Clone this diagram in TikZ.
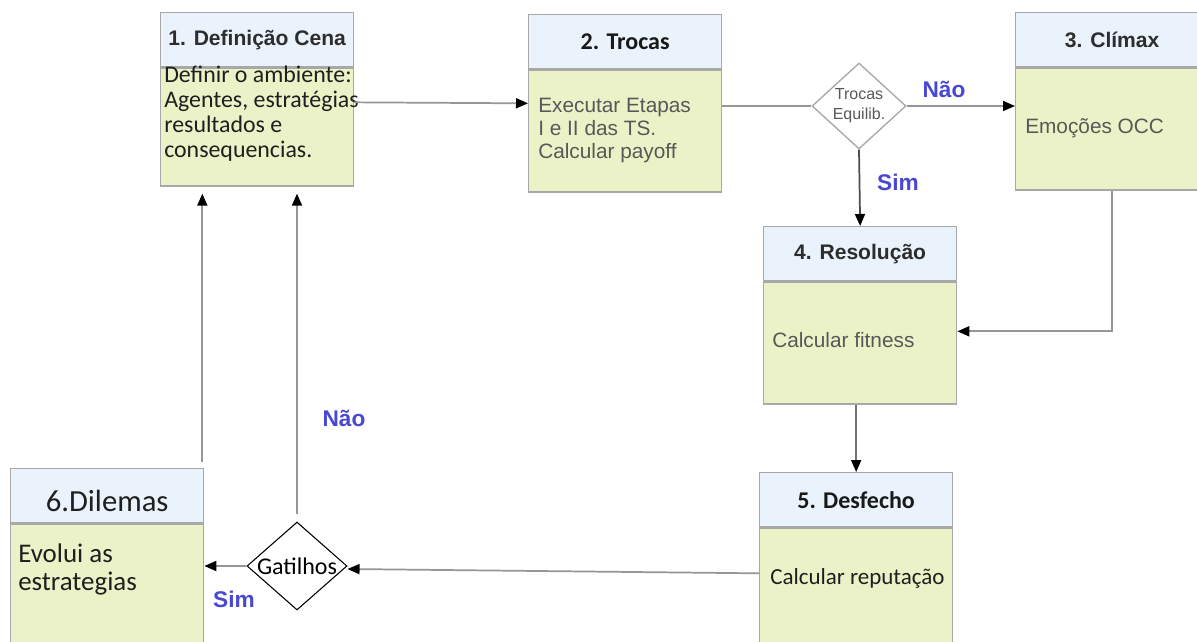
\documentclass[tikz,border=0pt]{standalone}
\usepackage{fontspec}
\setmainfont{Liberation Sans}
\newfontfamily\calibri{Carlito}
\usetikzlibrary{arrows.meta,shapes.geometric,calc}

\definecolor{headfill}{RGB}{234,242,251}
\definecolor{bodyfill}{RGB}{236,242,200}
\definecolor{frame}{RGB}{168,168,168}
\definecolor{wire}{RGB}{150,150,150}
\definecolor{labelblue}{RGB}{72,72,210}
\definecolor{txtgray}{RGB}{88,88,88}
\definecolor{txtdark}{RGB}{45,45,45}

\begin{document}
\begin{tikzpicture}[x=0.75pt,y=-0.75pt,
  headbox/.style={draw=frame, line width=1pt, fill=headfill, minimum width=144.75pt,
    minimum height=40.5pt, inner sep=0pt, anchor=north west},
  bodybox/.style={draw=frame, line width=1pt, fill=bodyfill, minimum width=144.75pt,
    inner sep=0pt, anchor=north west},
  arialhead/.style={font=\fontsize{15.8}{18}\selectfont\bfseries, text=txtdark},
  calhead/.style={font=\calibri\fontsize{18}{21}\selectfont\bfseries, text=black!90},
  arialtxt/.style={font=\fontsize{15.6}{17.25}\selectfont, text=txtgray, inner sep=0pt, align=left},
  caltxt/.style={font=\calibri\fontsize{17.9}{18.75}\selectfont, text=black!88, inner sep=0pt, align=left},
  decision/.style={diamond, draw, fill=white, inner sep=0pt},
  answer/.style={font=\fontsize{17}{20}\selectfont\bfseries, text=labelblue},
  wire/.style={draw=wire, line width=1.3pt, -{Triangle[length=9pt,width=7.5pt,color=black]}},
  plainwire/.style={draw=wire, line width=1.3pt}
]
\useasboundingbox (0,0) rectangle (1197,642);
\clip (0,0) rectangle (1197,642);
\fill[white] (0,0) rectangle (1197,642);

% Stage 1
\node[headbox, arialhead] (h1) at (160,12) {1. Definição Cena};
\node[bodybox, minimum height=88.5pt] (b1) at (h1.south west) {};
\node[caltxt, anchor=north west] (t1) at (164,66)
  {Definir o ambiente:\\Agentes, estratégias\\resultados e\\consequencias.};

% Stage 2
\node[headbox, calhead] (h2) at (528,14) {2. Trocas};
\node[bodybox, minimum height=91.5pt] (b2) at (h2.south west) {};
\node[arialtxt, anchor=north west] (t2) at (538,98)
  {Executar Etapas\\I e II das TS.\\Calcular payoff};

% Stage 3
\node[headbox, arialhead] (h3) at (1015,12) {3. Clímax};
\node[bodybox, minimum height=91.5pt] (b3) at (h3.south west) {};
\node[arialtxt, anchor=base west] (t3) at (1025,133) {Emoções OCC};

% Stage 4
\node[headbox, arialhead] (h4) at (763,226) {4. Resolução};
\node[bodybox, minimum height=91.5pt] (b4) at (h4.south west) {};
\node[arialtxt, anchor=base west] (t4) at (772,347) {Calcular fitness};

% Stage 5
\node[headbox, calhead] (h5) at (759,472) {5. Desfecho};
\node[bodybox, minimum height=100pt] (b5) at (h5.south west) {};
\node[caltxt, font=\calibri\fontsize{17.25}{18.75}\selectfont, anchor=base west] (t5) at (770,584) {Calcular reputação};

% Stage 6
\node[headbox, font=\calibri\fontsize{23}{25}\selectfont, text=black!88] (h6) at (10,468)
  {\raisebox{-4pt}[\height][\depth]{6.Dilemas}};
\node[bodybox, minimum height=104pt] (b6) at (h6.south west) {};
\node[caltxt, font=\calibri\fontsize{20.2}{21}\selectfont, anchor=north west] (t6) at (18,544)
  {Evolui as\\estrategias};

% Decisions
\node[decision, draw=frame, line width=1pt, minimum width=70.5pt, minimum height=64.5pt,
  label={[font=\fontsize{12}{15}\selectfont, text=txtgray, align=center]center:Trocas\\Equilib.}]
  (d1) at (859,106) {};
\node[decision, draw=black, line width=0.8pt, minimum width=75pt, minimum height=66pt,
  label={[font=\calibri\fontsize{18}{20}\selectfont, text=black]center:Gatilhos}]
  (d2) at (297,566) {};

% Connectors
\draw[wire] ($(b1.north east)+(0,35)$) -- ($(b2.north west)+(0,34)$);
\draw[plainwire] (d1.west -| b2.east) -- (d1.west);
\draw[wire] (d1.east) -- (d1.east -| b3.west);
\draw[wire, draw=black!70] (d1.south) -- (h4.north);
\draw[wire] (b3.south) |- ($(b4.north east)+(0,50)$);
\draw[wire, draw=black!55] (b4.south -| h5.north) -- (h5.north);
\draw[wire] ($(b5.north west)+(0,46)$) -- ($(d2.east)+(0,3)$);
\draw[wire] (d2.west) -- (d2.west -| b6.east);
\draw[wire, shorten >=5.25pt] ($(d2.north)+(0,-7)$) coordinate (up2) -- (up2 |- b1.south);
\draw[wire, shorten >=5.25pt] ($(h6.north east)+(-2,-6)$) coordinate (up6) -- (up6 |- b1.south);

% Branch answers
\node[answer] (noA) at (944,89) {Não};
\node[answer] (yesA) at (898,182) {Sim};
\node[answer] (noB) at (344,418) {Não};
\node[answer] (yesB) at (234,599) {Sim};
\end{tikzpicture}
\end{document}
